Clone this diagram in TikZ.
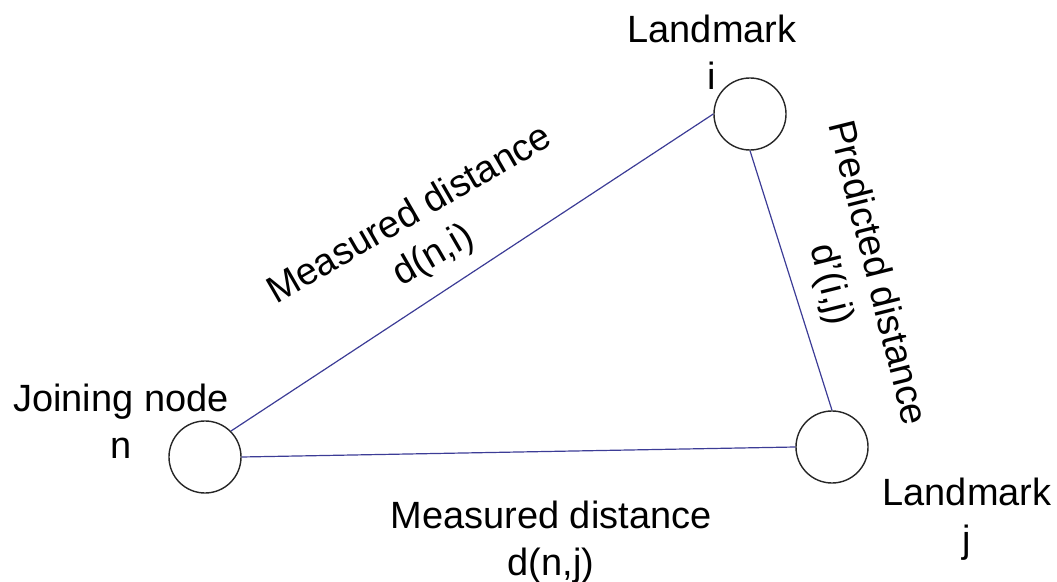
\documentclass[tikz,border=0pt]{standalone}
\usepackage{fontspec}
\setmainfont{Liberation Sans}
\usepackage{xcolor}
\definecolor{linkblue}{RGB}{60,60,150}

\begin{document}
\begin{tikzpicture}[x=0.025cm, y=-0.025cm,
    host/.style={circle, draw=black!85, line width=1pt, minimum size=1.8cm, inner sep=0pt},
    lbl/.style={align=center, inner sep=0pt, font=\fontsize{27}{33.4}\selectfont},
    link/.style={draw=linkblue, line width=0.85pt}]
  \useasboundingbox (0,0) rectangle (1057,582);
  \node[host] (n) at (205,457) {};
  \node[host] (i) at (750,114) {};
  \node[host] (j) at (832,447) {};
  \node[lbl] (nname) at (121,421) {Joining node\\n};
  \node[lbl] (iname) at (712,52) {Landmark\\i};
  \node[lbl] (jname) at (967,519) {Landmark\\j};
  \draw[link] (n.north east) -- (i.west);
  \draw[link] (i.south) -- (j.north);
  \draw[link] (n.east) -- (j.west);
  \node[lbl, rotate=30] (dni) at (422,236) {Measured distance\\d(n,i)};
  \node[lbl, rotate=-76] (dij) at (853,279) {Predicted distance\\d'(i,j)};
  \node[lbl] (dnj) at (551,542) {Measured distance\\d(n,j)};
\end{tikzpicture}
\end{document}
